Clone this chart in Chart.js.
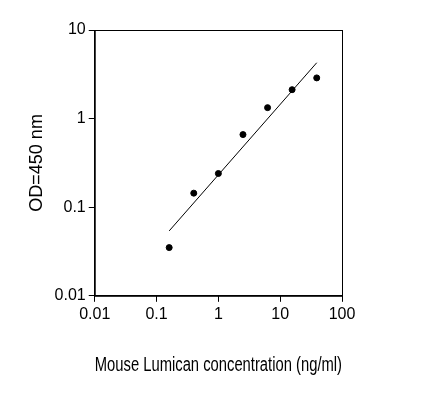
<!DOCTYPE html>
<html>
<head>
<meta charset="utf-8">
<script src="https://cdn.jsdelivr.net/npm/chart.js@4/dist/chart.umd.min.js"></script>
<style>
  html, body { margin: 0; padding: 0; background: #fff; }
  #wrap { width: 435px; height: 405px; }
</style>
</head>
<body>
<div id="wrap"><canvas id="chart" width="435" height="405"></canvas></div>
<script>
// Dados
const concentracoes = [0.16, 0.4, 1, 2.5, 6.25, 15.6, 39];
const densidades = [0.035, 0.144, 0.24, 0.66, 1.33, 2.12, 2.88];
const linhaX = [0.16, 39];
const linhaY = [0.054, 4.27];
const ticksX = [0.01, 0.1, 1, 10, 100];
const ticksY = [0.01, 0.1, 1, 10];

// Plugin para desenhar a moldura da área do gráfico
const molduraPlugin = {
    id: 'moldura',
    afterDraw(chart) {
        const a = chart.chartArea;
        const ctx = chart.ctx;
        ctx.save();
        ctx.strokeStyle = '#000';
        ctx.lineWidth = 1;
        ctx.strokeRect(a.left + 0.5, a.top + 0.5, a.right - a.left, a.bottom - a.top);
        ctx.restore();
    }
};

function eixo(min, max, ticks, titulo, tamanho) {
    return {
        type: 'logarithmic',
        min: min,
        max: max,
        afterBuildTicks: function(scale) {
            scale.ticks = ticks.map(v => ({ value: v }));
        },
        ticks: {
            color: '#000',
            font: { family: 'Liberation Sans', size: 16 },
            callback: function(value) { return String(value); },
            autoSkip: false,
            maxRotation: 0
        },
        grid: { drawOnChartArea: false, drawTicks: true, tickLength: 6, color: '#000' },
        border: { display: true, color: '#000' },
        title: {
            display: true,
            text: titulo,
            color: '#000',
            font: { family: 'Liberation Sans', size: tamanho }
        }
    };
}

new Chart(document.getElementById('chart'), {
    type: 'scatter',
    data: {
        datasets: [{
            data: concentracoes.map((x, i) => ({ x: x, y: densidades[i] })),
            backgroundColor: '#000',
            borderColor: '#000',
            pointRadius: 3
        }, {
            type: 'line',
            data: linhaX.map((x, i) => ({ x: x, y: linhaY[i] })),
            borderColor: '#000',
            borderWidth: 1,
            pointRadius: 0,
            fill: false
        }]
    },
    options: {
        responsive: false,
        animation: false,
        layout: { padding: { left: 22, right: 93, top: 30, bottom: 24 } },
        plugins: { legend: { display: false }, tooltip: { enabled: false } },
        scales: {
            x: (function() {
                const e = eixo(0.01, 100, ticksX, 'Mouse Lumican concentration (ng/ml)', 20);
                e.title.padding = { top: 26 };
                return e;
            })(),
            y: eixo(0.01, 10, ticksY, 'OD=450 nm', 18)
        }
    },
    plugins: [molduraPlugin]
});
</script>
</body>
</html>
